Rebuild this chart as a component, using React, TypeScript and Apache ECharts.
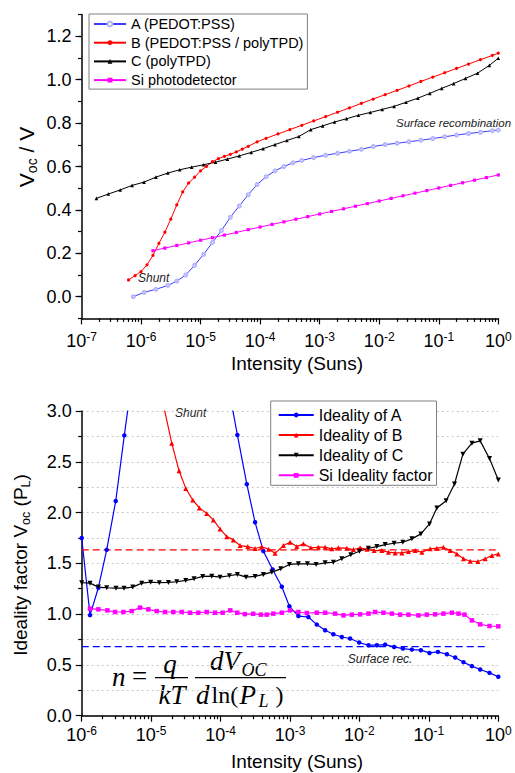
import React, { useEffect, useRef } from "react";
import * as echarts from "echarts";

// ---------- DATA (x = log10 of intensity in suns) ----------
// Top chart: Voc vs intensity
const TOP_A_LOG = [-6.13, -5.95, -5.75, -5.55, -5.4, -5.25, -5.1, -4.95, -4.8, -4.65, -4.5, -4.35, -4.2, -4.05, -3.9, -3.75, -3.6, -3.45, -3.3, -3.1, -2.9, -2.7, -2.5, -2.3, -2.1, -1.9, -1.7, -1.5, -1.3, -1.1, -0.9, -0.7, -0.5, -0.3, -0.1, 0];
const TOP_A_V = [0.0, 0.02, 0.034, 0.052, 0.072, 0.1, 0.145, 0.195, 0.25, 0.305, 0.366, 0.418, 0.47, 0.517, 0.553, 0.58, 0.6, 0.617, 0.628, 0.641, 0.652, 0.661, 0.67, 0.679, 0.692, 0.701, 0.707, 0.714, 0.721, 0.729, 0.737, 0.745, 0.752, 0.758, 0.765, 0.768];

const TOP_B_LOG = [-6.21, -6.1, -6.0, -5.9, -5.8, -5.7, -5.6, -5.5, -5.4, -5.3, -5.2, -5.1, -5.0, -4.9, -4.8, -4.7, -4.6, -4.5, -4.4, -4.3, -4.2, -4.05, -3.9, -3.7, -3.5, -3.3, -3.1, -2.9, -2.7, -2.5, -2.3, -2.1, -1.9, -1.7, -1.5, -1.3, -1.1, -0.9, -0.7, -0.5, -0.3, -0.1, 0];
const TOP_B_V = [0.077, 0.097, 0.116, 0.147, 0.19, 0.246, 0.297, 0.358, 0.423, 0.483, 0.524, 0.551, 0.58, 0.601, 0.622, 0.636, 0.647, 0.656, 0.667, 0.68, 0.693, 0.714, 0.73, 0.75, 0.77, 0.79, 0.81, 0.83, 0.85, 0.87, 0.891, 0.911, 0.931, 0.951, 0.971, 0.992, 1.012, 1.032, 1.052, 1.072, 1.092, 1.112, 1.122];

const TOP_C_LOG = [-6.75, -6.55, -6.35, -6.15, -5.95, -5.75, -5.55, -5.35, -5.15, -4.95, -4.75, -4.55, -4.35, -4.15, -3.95, -3.75, -3.55, -3.35, -3.15, -2.95, -2.75, -2.55, -2.35, -2.15, -1.95, -1.75, -1.55, -1.35, -1.15, -0.95, -0.75, -0.55, -0.35, -0.15, 0];
const TOP_C_V = [0.453, 0.473, 0.492, 0.513, 0.528, 0.551, 0.57, 0.585, 0.597, 0.608, 0.62, 0.634, 0.649, 0.665, 0.682, 0.701, 0.72, 0.738, 0.77, 0.787, 0.805, 0.82, 0.836, 0.849, 0.863, 0.877, 0.896, 0.915, 0.937, 0.96, 0.982, 1.006, 1.03, 1.066, 1.099];

const TOP_SI_LOG = [-5.8, -5.6, -5.4, -5.2, -5.0, -4.8, -4.6, -4.4, -4.2, -4.0, -3.8, -3.6, -3.4, -3.2, -3.0, -2.8, -2.6, -2.4, -2.2, -2.0, -1.8, -1.6, -1.4, -1.2, -1.0, -0.8, -0.6, -0.4, -0.2, 0];
const TOP_SI_V = [0.212, 0.224, 0.236, 0.248, 0.26, 0.272, 0.284, 0.296, 0.309, 0.321, 0.333, 0.345, 0.357, 0.369, 0.381, 0.393, 0.405, 0.417, 0.429, 0.441, 0.453, 0.465, 0.477, 0.489, 0.501, 0.513, 0.525, 0.537, 0.549, 0.561];

// Bottom chart: ideality factor vs intensity
const BOT_A_LOG = [-6.0, -5.88, -5.76, -5.64, -5.51, -5.386, -5.26, -3.89, -3.758, -3.622, -3.503, -3.383, -3.25, -3.118, -3.009, -2.879, -2.735, -2.614, -2.494, -2.375, -2.254, -2.134, -2.004, -1.87, -1.749, -1.63, -1.5, -1.375, -1.245, -1.115, -0.991, -0.87, -0.741, -0.621, -0.501, -0.38, -0.261, -0.127, 0];
const BOT_A_N = [1.75, 0.99, 1.26, 1.633, 2.114, 2.76, 3.4, 3.25, 2.764, 2.28, 1.904, 1.62, 1.44, 1.27, 1.077, 0.981, 0.972, 0.897, 0.841, 0.802, 0.775, 0.76, 0.72, 0.694, 0.694, 0.7, 0.677, 0.661, 0.651, 0.645, 0.618, 0.628, 0.605, 0.573, 0.527, 0.488, 0.455, 0.422, 0.383];

const BOT_B_LOG = [-4.81, -4.703, -4.598, -4.501, -4.401, -4.305, -4.199, -4.104, -4.007, -3.911, -3.816, -3.719, -3.608, -3.503, -3.41, -3.31, -3.215, -3.095, -2.999, -2.902, -2.807, -2.7, -2.591, -2.494, -2.398, -2.303, -2.182, -2.086, -1.99, -1.893, -1.788, -1.677, -1.582, -1.486, -1.389, -1.294, -1.197, -1.101, -0.981, -0.885, -0.79, -0.693, -0.597, -0.501, -0.405, -0.294, -0.189, -0.092, 0];
const BOT_B_N = [3.02, 2.683, 2.411, 2.238, 2.124, 2.045, 1.992, 1.927, 1.839, 1.763, 1.731, 1.675, 1.665, 1.646, 1.663, 1.64, 1.6, 1.675, 1.708, 1.665, 1.692, 1.653, 1.659, 1.659, 1.643, 1.653, 1.649, 1.636, 1.653, 1.639, 1.626, 1.626, 1.61, 1.603, 1.603, 1.616, 1.626, 1.61, 1.643, 1.649, 1.659, 1.626, 1.593, 1.545, 1.521, 1.518, 1.545, 1.577, 1.593];

const BOT_C_LOG = [-6.0, -5.88, -5.76, -5.64, -5.506, -5.39, -5.265, -5.135, -5.006, -4.882, -4.752, -4.631, -4.501, -4.382, -4.257, -4.127, -4.007, -3.873, -3.758, -3.633, -3.503, -3.383, -3.262, -3.133, -3.009, -2.879, -2.749, -2.624, -2.494, -2.375, -2.254, -2.124, -2.0, -1.87, -1.749, -1.63, -1.5, -1.375, -1.245, -1.115, -0.991, -0.885, -0.751, -0.631, -0.51, -0.38, -0.261, -0.127, 0];
const BOT_C_N = [1.309, 1.305, 1.266, 1.26, 1.256, 1.256, 1.266, 1.305, 1.315, 1.309, 1.312, 1.319, 1.332, 1.348, 1.371, 1.374, 1.364, 1.378, 1.391, 1.364, 1.371, 1.391, 1.413, 1.446, 1.489, 1.495, 1.495, 1.489, 1.505, 1.511, 1.545, 1.584, 1.619, 1.649, 1.665, 1.685, 1.698, 1.708, 1.741, 1.79, 1.888, 2.045, 2.117, 2.281, 2.575, 2.683, 2.706, 2.532, 2.32];

const BOT_SI_LOG = [-5.88, -5.76, -5.63, -5.52, -5.4, -5.28, -5.16, -5.04, -4.92, -4.8, -4.68, -4.56, -4.44, -4.32, -4.2, -4.08, -3.97, -3.86, -3.76, -3.65, -3.53, -3.42, -3.335, -3.24, -3.118, -2.999, -2.879, -2.758, -2.614, -2.494, -2.35, -2.23, -2.11, -1.99, -1.87, -1.774, -1.654, -1.533, -1.413, -1.294, -1.15, -1.03, -0.91, -0.79, -0.669, -0.573, -0.487, -0.38, -0.261, -0.127, 0];
const BOT_SI_N = [1.054, 1.047, 1.037, 1.021, 1.021, 1.03, 1.064, 1.047, 1.03, 1.021, 1.021, 1.021, 1.014, 1.014, 1.021, 1.014, 1.014, 1.037, 1.014, 1.0, 1.003, 0.995, 0.995, 1.005, 1.014, 1.037, 1.021, 1.011, 1.014, 1.014, 1.005, 0.988, 0.995, 0.998, 1.005, 1.021, 1.014, 1.005, 0.995, 0.995, 0.988, 0.995, 0.998, 1.005, 1.014, 1.005, 0.995, 0.939, 0.9, 0.883, 0.88];

// Reference (dashed) levels in the bottom chart
const REF_B_LOG = [-6, -0.025];
const REF_B_N = [1.633, 1.633];
const REF_A_LOG = [-6, -0.16];
const REF_A_N = [0.681, 0.681];

const TOP_NAMES = ["A (PEDOT:PSS)", "B (PEDOT:PSS / polyTPD)", "C (polyTPD)", "Si photodetector"];
const BOT_NAMES = ["Ideality of A", "Ideality of B", "Ideality of C", "Si Ideality factor"];
const TOP_Y_LABELS = [0, 0.2, 0.4, 0.6, 0.8, 1.0, 1.2];

const FONT = "'Liberation Sans', Arial, Helvetica, sans-serif";
const SERIF = "'Liberation Serif', 'Times New Roman', serif";

const zip = (xs: number[], ys: number[]) => xs.map((x, i) => [x, ys[i]]);

function minorLogTicks(from: number, to: number) {
  const out: number[] = [];
  for (let n = from; n < to; n++) {
    for (let k = 2; k <= 9; k++) out.push(n + Math.log10(k));
  }
  return out;
}

const expRich = {
  b: { fontSize: 18, fontFamily: FONT, color: "#000", lineHeight: 20 },
  s: { fontSize: 12, fontFamily: FONT, color: "#000", lineHeight: 12, verticalAlign: "top" },
};
const expFormatter = (v: number) => `{b|10}{s|${Math.round(v)}}`;

function buildOption() {
  const axisLineStyle = { color: "#000", width: 1.5 };
  const tickStyle = { color: "#000", width: 1.2 };

  const xMain = (grid: number, min: number, margin: number) => ({
    type: "value",
    gridIndex: grid,
    min,
    max: 0,
    interval: 1,
    position: "bottom",
    axisLine: { show: true, onZero: false, lineStyle: axisLineStyle },
    axisTick: { show: true, length: 6, lineStyle: tickStyle },
    axisLabel: { formatter: expFormatter, rich: expRich, margin },
    splitLine: { show: false },
  });
  const xMinor = (grid: number, min: number) => ({
    type: "value",
    gridIndex: grid,
    min,
    max: 0,
    position: "bottom",
    axisLine: { show: false, onZero: false },
    axisTick: { show: true, length: 3.5, lineStyle: tickStyle, customValues: minorLogTicks(min, 0) },
    axisLabel: { show: false },
    splitLine: { show: false },
  });

  const labelStyle = { color: "#000", fontSize: 18, fontFamily: FONT, margin: 10 };

  const topSeriesBase = { type: "line", xAxisIndex: 0, yAxisIndex: 0, lineStyle: { width: 1 } };
  const botSeriesBase = { type: "line", xAxisIndex: 2, yAxisIndex: 2, lineStyle: { width: 1.2 } };

  const legendBase = {
    orient: "vertical",
    borderColor: "#7f7f7f",
    borderWidth: 1,
    borderRadius: 0,
    backgroundColor: "#fff",
    itemHeight: 6,
    selectedMode: false,
  };

  return {
    animation: false,
    backgroundColor: "#fff",
    grid: [
      { left: 81.5, top: 14.6, width: 416.8, height: 303.8 },
      { left: 81.7, top: 411, width: 416.6, height: 304.7 },
    ],
    xAxis: [xMain(0, -7, 13), xMinor(0, -7), xMain(1, -6, 9), xMinor(1, -6)],
    yAxis: [
      {
        type: "value",
        gridIndex: 0,
        min: -0.1,
        max: 1.3,
        position: "left",
        axisLine: { show: true, onZero: false, lineStyle: axisLineStyle },
        axisTick: { show: true, length: 6, lineStyle: tickStyle, customValues: TOP_Y_LABELS },
        axisLabel: { ...labelStyle, customValues: TOP_Y_LABELS, formatter: (v: number) => v.toFixed(1) },
        splitLine: { show: false },
      },
      {
        type: "value",
        gridIndex: 0,
        min: -0.1,
        max: 1.3,
        interval: 0.1,
        position: "left",
        axisLine: { show: false, onZero: false },
        axisTick: { show: true, length: 3.5, lineStyle: tickStyle },
        axisLabel: { show: false },
        splitLine: { show: false },
      },
      {
        type: "value",
        gridIndex: 1,
        min: 0,
        max: 3,
        interval: 0.5,
        position: "left",
        axisLine: { show: true, onZero: false, lineStyle: axisLineStyle },
        axisTick: { show: true, length: 6, lineStyle: tickStyle },
        minorTick: { show: true, splitNumber: 2, length: 3.5, lineStyle: tickStyle },
        axisLabel: { ...labelStyle, formatter: (v: number) => v.toFixed(1) },
        splitLine: { show: true, lineStyle: { color: "#c8c8c8", type: [2, 3], width: 1 } },
        minorSplitLine: { show: true, lineStyle: { color: "#c8c8c8", type: [2, 3], width: 1 } },
      },
    ],
    legend: [
      {
        ...legendBase,
        data: TOP_NAMES,
        left: 89,
        top: 14,
        padding: [2, 4, 1, 4],
        itemWidth: 32,
        itemGap: 2.7,
        textStyle: { fontSize: 14.5, fontFamily: FONT, color: "#000", lineHeight: 16 },
      },
      {
        ...legendBase,
        data: BOT_NAMES,
        left: 270.7,
        top: 401,
        padding: [5, 4, 1, 7],
        itemWidth: 35,
        itemGap: 2.1,
        textStyle: { fontSize: 16, fontFamily: FONT, color: "#000", lineHeight: 18 },
      },
    ],
    series: [
      {
        ...topSeriesBase,
        name: TOP_NAMES[0],
        data: zip(TOP_A_LOG, TOP_A_V),
        symbol: "emptyCircle",
        symbolSize: 3,
        lineStyle: { width: 1, color: "#3b3bff" },
        itemStyle: { color: "#b4b4ff", borderColor: "#b4b4ff", borderWidth: 1 },
      },
      {
        ...topSeriesBase,
        name: TOP_NAMES[1],
        data: zip(TOP_B_LOG, TOP_B_V),
        symbol: "circle",
        symbolSize: 3.2,
        lineStyle: { width: 1, color: "#ff0000" },
        itemStyle: { color: "#ff0000" },
      },
      {
        ...topSeriesBase,
        name: TOP_NAMES[2],
        data: zip(TOP_C_LOG, TOP_C_V),
        symbol: "triangle",
        symbolSize: 3.6,
        lineStyle: { width: 1, color: "#000" },
        itemStyle: { color: "#000" },
      },
      {
        ...topSeriesBase,
        name: TOP_NAMES[3],
        data: zip(TOP_SI_LOG, TOP_SI_V),
        symbol: "rect",
        symbolSize: 3.2,
        lineStyle: { width: 1, color: "#ff00ff" },
        itemStyle: { color: "#ff00ff" },
      },
      {
        ...botSeriesBase,
        name: BOT_NAMES[0],
        data: zip(BOT_A_LOG, BOT_A_N),
        symbol: "circle",
        symbolSize: 4.5,
        lineStyle: { width: 1.2, color: "#0000ff" },
        itemStyle: { color: "#0000ff" },
      },
      {
        ...botSeriesBase,
        name: BOT_NAMES[1],
        data: zip(BOT_B_LOG, BOT_B_N),
        symbol: "triangle",
        symbolSize: 5,
        lineStyle: { width: 1.2, color: "#ff0000" },
        itemStyle: { color: "#ff0000" },
      },
      {
        ...botSeriesBase,
        name: BOT_NAMES[2],
        data: zip(BOT_C_LOG, BOT_C_N),
        symbol: "triangle",
        symbolRotate: 180,
        symbolSize: 5,
        lineStyle: { width: 1.2, color: "#000" },
        itemStyle: { color: "#000" },
      },
      {
        ...botSeriesBase,
        name: BOT_NAMES[3],
        data: zip(BOT_SI_LOG, BOT_SI_N),
        symbol: "rect",
        symbolSize: 4.5,
        lineStyle: { width: 1.2, color: "#ff00ff" },
        itemStyle: { color: "#ff00ff" },
      },
      {
        ...botSeriesBase,
        name: "refB",
        data: zip(REF_B_LOG, REF_B_N),
        symbol: "none",
        silent: true,
        lineStyle: { width: 1.2, color: "#ff0000", type: [7, 4] },
      },
      {
        ...botSeriesBase,
        name: "refA",
        data: zip(REF_A_LOG, REF_A_N),
        symbol: "none",
        silent: true,
        lineStyle: { width: 1.2, color: "#0000ff", type: [7, 4] },
      },
    ],
    graphic: buildGraphic(),
  };
}

function txt(text: string, x: number, y: number, style: any, extra: any = {}) {
  return {
    type: "text",
    x,
    y,
    silent: true,
    ...extra,
    style: { text, fill: "#000", fontFamily: FONT, align: "left", verticalAlign: "middle", ...style },
  };
}

function buildGraphic() {
  const note = { fontSize: 12, fontStyle: "italic", fill: "#222" };
  const mathI = { fontSize: 27, fontFamily: SERIF, fontStyle: "italic" };
  const mathR = { fontSize: 24, fontFamily: SERIF };
  const subI = { fontSize: 18, fontFamily: SERIF, fontStyle: "italic" };
  const topNameRich = {
    a: { fontSize: 21, fontFamily: FONT, color: "#000", lineHeight: 26 },
    sub: { fontSize: 14, fontFamily: FONT, color: "#000", lineHeight: 15, verticalAlign: "bottom" },
  };
  const botNameRich = {
    a: { fontSize: 19, fontFamily: FONT, color: "#000", lineHeight: 24 },
    sub: { fontSize: 12.5, fontFamily: FONT, color: "#000", lineHeight: 14, verticalAlign: "bottom" },
  };
  return [
    // annotations
    txt("Shunt", 138, 278, note),
    txt("Surface recombination", 396, 123, { ...note, fontSize: 11.5 }),
    txt("Shunt", 175, 412.7, note),
    txt("Surface rec.", 347.7, 659, note),
    // axis titles
    txt("Intensity (Suns)", 297, 363.5, { fontSize: 19, align: "center" }),
    txt("Intensity (Suns)", 297, 761.7, { fontSize: 19, align: "center" }),
    txt("{a|V}{sub|oc}{a| / V}", 26, 157, { align: "center", rich: topNameRich }, { rotation: Math.PI / 2 }),
    txt("{a|Ideality factor V}{sub|oc}{a| (P}{sub|L}{a|)}", 20, 565, { align: "center", rich: botNameRich }, { rotation: Math.PI / 2 }),
    // formula n = q/kT * dV_OC / d ln(P_L)
    txt("n", 112, 677, mathI),
    txt("=", 132, 676, { ...mathR, fontSize: 27 }),
    { type: "line", silent: true, shape: { x1: 155, y1: 677.7, x2: 188, y2: 677.7 }, style: { stroke: "#000", lineWidth: 1.2 } },
    txt("q", 170, 664, { ...mathI, align: "center" }),
    txt("kT", 172, 694.5, { ...mathI, align: "center" }),
    { type: "line", silent: true, shape: { x1: 195, y1: 677.7, x2: 286, y2: 677.7 }, style: { stroke: "#000", lineWidth: 1.2 } },
    txt("dV", 210, 660.5, mathI),
    txt("OC", 241.5, 669.5, subI),
    txt("d", 196, 694.5, mathI),
    txt("ln(", 211.5, 694.5, mathR),
    txt("P", 239.5, 694.5, mathI),
    txt("L", 258.5, 701, subI),
    txt(")", 275.5, 694.5, mathR),
  ];
}

export default function App() {
  const ref = useRef<HTMLDivElement>(null);
  useEffect(() => {
    if (!ref.current) return;
    const chart = echarts.init(ref.current, null, { renderer: "svg" });
    chart.setOption(buildOption() as any);
    return () => chart.dispose();
  }, []);
  return (
    <div
      ref={ref}
      style={{ position: "fixed", left: 0, top: 0, width: 515, height: 773, background: "#fff" }}
    />
  );
}
